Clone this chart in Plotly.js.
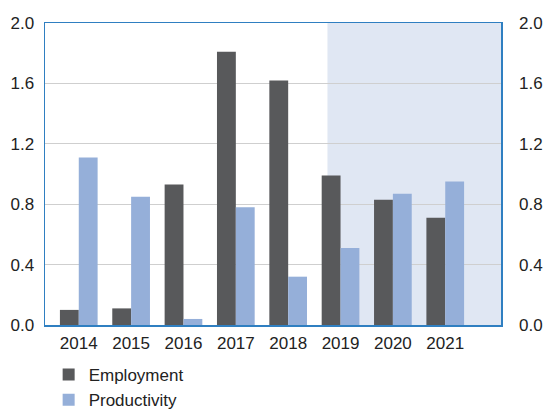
<!DOCTYPE html>
<html><head><meta charset="utf-8">
<script src="https://cdn.plot.ly/plotly-3.0.1.min.js"></script>
<style>html,body{margin:0;padding:0;background:#fff}</style>
</head><body>
<div id="chart" style="width:546px;height:410px"></div>
<script>
const years = ['2014','2015','2016','2017','2018','2019','2020','2021'];
const employment = [0.10, 0.11, 0.93, 1.81, 1.62, 0.99, 0.83, 0.71];
const productivity = [1.11, 0.85, 0.04, 0.78, 0.32, 0.51, 0.87, 0.95];
const yTicks = [0, 0.4, 0.8, 1.2, 1.6, 2.0];

const font = {family: 'Liberation Sans, Arial, sans-serif', size: 17, color: '#222'};
const frameColor = '#2f7fc1';

const traces = [
  {type: 'bar', name: 'Employment', x: years, y: employment, marker: {color: '#58595b'}},
  {type: 'bar', name: 'Productivity', x: years, y: productivity, marker: {color: '#95afd9'}},
  {type: 'scatter', x: years, y: employment, yaxis: 'y2', mode: 'none', showlegend: false, hoverinfo: 'skip'}
];

const layout = {
  width: 546, height: 410,
  margin: {l: 45, r: 45, t: 23, b: 85, autoexpand: false},
  paper_bgcolor: '#fff', plot_bgcolor: 'rgba(0,0,0,0)',
  font: font,
  barmode: 'group', bargap: 0.28, bargroupgap: 0,
  xaxis: {type: 'category', range: [-0.645, 8.065], showgrid: false, ticks: '',
          showline: true, linecolor: frameColor, linewidth: 1.5, mirror: true,
          tickfont: font, fixedrange: true, automargin: false, ticklabelstandoff: 2},
  yaxis: {range: [0, 2], tickvals: yTicks, tickformat: '.1f', showgrid: true, gridcolor: '#cfcfcf', gridwidth: 1,
          zeroline: false, showline: true, linecolor: frameColor, linewidth: 1.5, mirror: true,
          ticks: '', tickfont: font, ticklabelstandoff: 6, automargin: false},
  yaxis2: {overlaying: 'y', side: 'right', range: [0, 2], tickvals: yTicks, tickformat: '.1f',
           showgrid: false, zeroline: false, showline: false, ticks: '', tickfont: font,
           ticklabelstandoff: 17, automargin: false},
  shapes: [{type: 'rect', xref: 'x', yref: 'paper', x0: 4.75, x1: 8.065, y0: 0, y1: 1,
            fillcolor: '#e0e7f3', line: {width: 0}, layer: 'below'}],
  legend: {orientation: 'v', x: 0.008, xanchor: 'left', y: -0.106, yanchor: 'top',
           font: font, tracegroupgap: 0, itemwidth: 30, bgcolor: 'rgba(0,0,0,0)'},
  showlegend: true
};

Plotly.newPlot('chart', traces, layout, {staticPlot: true, displayModeBar: false});
</script>
</body></html>
